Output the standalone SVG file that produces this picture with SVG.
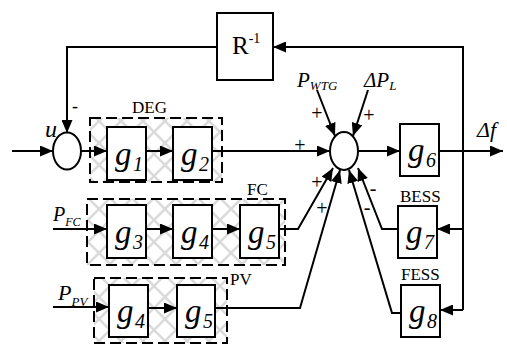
<svg xmlns="http://www.w3.org/2000/svg" width="507" height="345" viewBox="0 0 507 345" font-family="'Liberation Serif', 'Times New Roman', Times, serif">
<defs>
<style>
.blk{fill:#fff;stroke:#000;stroke-width:2}
.sum{fill:#fff;stroke:#000;stroke-width:2}
.grp{fill:url(#hatch);stroke:#000;stroke-width:2;stroke-dasharray:11 5}
.ln{fill:none;stroke:#000;stroke-width:2}
.ar{marker-end:url(#arr)}
text{fill:#000}
.it{font-style:italic}
.g{font-style:italic;font-size:33px}
.gs{font-style:italic;font-size:20px}
.lab{font-size:17px}
.sg{font-size:20px;text-anchor:middle}
</style>
<pattern id="hatch" width="22" height="22" patternUnits="userSpaceOnUse">
<rect width="22" height="22" fill="#fff"/>
<path d="M0,0 L22,22 M22,0 L0,22" stroke="#dadada" stroke-width="2.5"/>
</pattern>
<marker id="arr" markerWidth="13" markerHeight="11" refX="13" refY="5.5" orient="auto" markerUnits="userSpaceOnUse">
<path d="M0,0 L13,5.5 L0,11 z" fill="#000"/>
</marker>
</defs>
<rect width="507" height="345" fill="#fff"/>

<g id="grp-DEG"><rect class="grp" x="90" y="118" width="132" height="64"/><text class="lab" x="132" y="113">DEG</text></g>
<g id="grp-FC"><rect class="grp" x="87" y="199" width="198" height="66"/><text class="lab" x="247" y="195">FC</text></g>
<g id="grp-PV"><rect class="grp" x="94" y="278" width="133" height="65"/><text class="lab" x="230" y="285">PV</text></g>

<g id="connectors">
<path class="ln ar" d="M12,151 L53,151"/>
<path class="ln ar" d="M81,151 L107,151"/>
<path class="ln ar" d="M146,151 L173,151"/>
<path class="ln ar" d="M212,151 L330,151"/>
<path class="ln ar" d="M358,151 L400,151"/>
<path class="ln ar" d="M439,151 L503,151"/>
<path class="ln ar" d="M463,310 L463,47 L273,47"/>
<path class="ln ar" d="M463,229 L437,229"/>
<path class="ln ar" d="M463,310 L440,310"/>
<path class="ln ar" d="M217,47 L67,47 L67,133"/>
<path class="ln ar" d="M317,90 L335,136"/>
<path class="ln ar" d="M368,90 L353,136"/>
<path class="ln ar" d="M53,229 L107,229"/>
<path class="ln ar" d="M146,229 L173,229"/>
<path class="ln ar" d="M212,229 L240,229"/>
<path class="ln ar" d="M279,229 L298,229 L333,168"/>
<path class="ln ar" d="M53,307 L109,307"/>
<path class="ln ar" d="M148,308 L177,308"/>
<path class="ln ar" d="M215,308 L300,308 L340,170"/>
<path class="ln ar" d="M398,229 L382,229 L358,168"/>
<path class="ln ar" d="M401,313 L392,313 L349,170"/>
</g>

<g id="sum-u"><ellipse class="sum" cx="67" cy="151" rx="14" ry="18.5"/><text class="it" x="45" y="137" font-size="24">u</text><text x="72" y="112" font-size="18">-</text></g>
<g id="sum-main"><ellipse class="sum" cx="344" cy="151" rx="14" ry="19"/>
<text class="sg" x="317" y="120">+</text>
<text class="sg" x="369" y="122">+</text>
<text class="sg" x="300" y="152">+</text>
<text class="sg" x="317" y="189">+</text>
<text class="sg" x="322" y="215">+</text>
<text class="sg" x="373" y="195">-</text>
<text class="sg" x="367" y="214">-</text>
</g>

<g id="R"><rect class="blk" x="217" y="13" width="56" height="67"/><text x="232" y="54" font-size="25">R<tspan font-size="14" dy="-11">-1</tspan></text></g>
<g id="g1"><rect class="blk" x="107" y="127" width="39" height="53"/><text class="g" x="115" y="165">g</text><text class="gs" x="133" y="171">1</text></g>
<g id="g2"><rect class="blk" x="173" y="127" width="39" height="53"/><text class="g" x="181" y="165">g</text><text class="gs" x="199" y="171">2</text></g>
<g id="g6"><rect class="blk" x="400" y="124" width="39" height="52"/><text class="g" x="408" y="161">g</text><text class="gs" x="426" y="167">6</text></g>
<g id="g3"><rect class="blk" x="107" y="205" width="39" height="53"/><text class="g" x="115" y="243">g</text><text class="gs" x="133" y="249">3</text></g>
<g id="g4-fc"><rect class="blk" x="173" y="205" width="39" height="53"/><text class="g" x="181" y="243">g</text><text class="gs" x="199" y="249">4</text></g>
<g id="g5-fc"><rect class="blk" x="240" y="205" width="39" height="53"/><text class="g" x="248" y="243">g</text><text class="gs" x="266" y="249">5</text></g>
<g id="g4-pv"><rect class="blk" x="109" y="285" width="39" height="52"/><text class="g" x="117" y="322">g</text><text class="gs" x="135" y="328">4</text></g>
<g id="g5-pv"><rect class="blk" x="177" y="285" width="38" height="52"/><text class="g" x="185" y="322">g</text><text class="gs" x="203" y="328">5</text></g>
<g id="g7"><rect class="blk" x="398" y="206" width="39" height="52"/><text class="g" x="406" y="243">g</text><text class="gs" x="424" y="249">7</text><text class="lab" x="400" y="202">BESS</text></g>
<g id="g8"><rect class="blk" x="401" y="285" width="39" height="52"/><text class="g" x="409" y="322">g</text><text class="gs" x="427" y="328">8</text><text class="lab" x="401" y="280">FESS</text></g>

<g id="inputs">
<text class="it" x="297" y="87" font-size="21">P<tspan font-size="13" dy="3">WTG</tspan></text>
<text class="it" x="364" y="87" font-size="21">ΔP<tspan font-size="13" dy="3">L</tspan></text>
<text class="it" x="477" y="137" font-size="22">Δf</text>
<text class="it" x="53" y="221" font-size="20">P<tspan font-size="12" dy="5">FC</tspan></text>
<text class="it" x="58" y="300" font-size="22">P<tspan font-size="13" dy="6">PV</tspan></text>
</g>
</svg>
